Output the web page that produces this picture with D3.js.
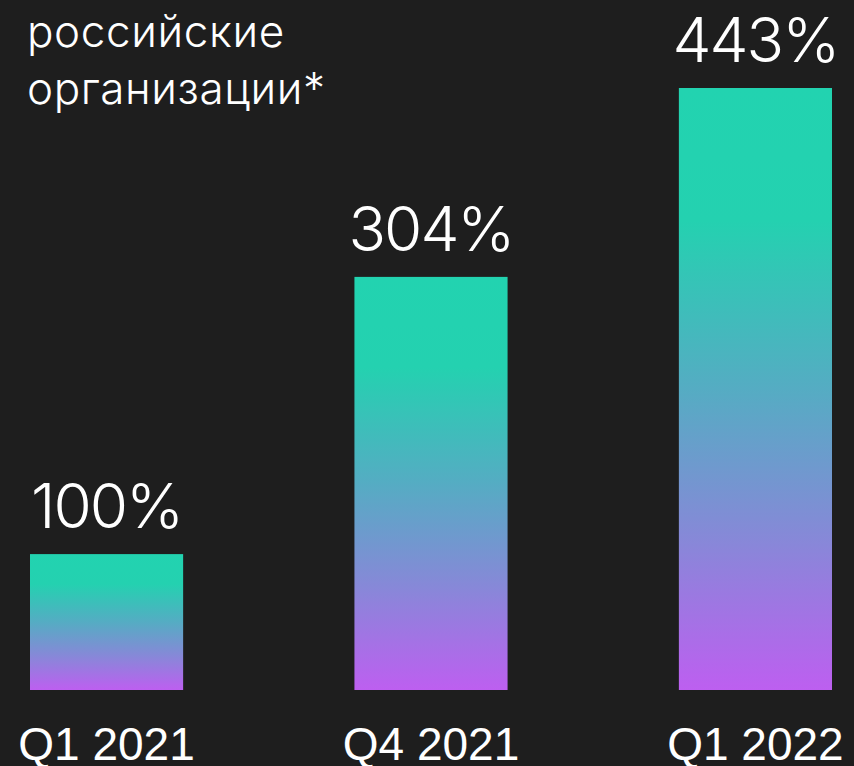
<!DOCTYPE html>
<html>
<head>
<meta charset="utf-8">
<script src="https://cdn.jsdelivr.net/npm/d3@7"></script>
<style>
  html, body { margin: 0; padding: 0; background: #1e1e1e; }
  svg { display: block; }
</style>
</head>
<body>
<div id="chart"></div>
<script>
// data
const quarters = ["Q1 2021", "Q4 2021", "Q1 2022"];
const values = [100, 304, 443];
const valueLabels = ["100%", "304%", "443%"];
const titleLines = ["российские", "организации*"];

const width = 854, height = 766;
const margin = {top: 88, right: 0, bottom: 76, left: 0};

const svg = d3.select("#chart")
  .append("svg")
  .attr("width", width)
  .attr("height", height);

svg.append("rect")
  .attr("width", width)
  .attr("height", height)
  .attr("fill", "#1e1e1e");

// gradient per bar (teal on top, purple at the base)
const defs = svg.append("defs");
const grad = defs.append("linearGradient")
  .attr("id", "barGrad")
  .attr("x1", 0).attr("y1", 0)
  .attr("x2", 0).attr("y2", 1);
grad.append("stop").attr("offset", "0%").attr("stop-color", "#22d3b0");
grad.append("stop").attr("offset", "22%").attr("stop-color", "#24d1b0");
grad.append("stop").attr("offset", "50%").attr("stop-color", "#55acc3");
grad.append("stop").attr("offset", "75%").attr("stop-color", "#8788d8");
grad.append("stop").attr("offset", "100%").attr("stop-color", "#bd5ff0");

const x = d3.scaleBand()
  .domain(quarters)
  .range([30, 832])
  .paddingInner(0.528)
  .paddingOuter(0);

const y = d3.scaleLinear()
  .domain([0, 443])
  .range([height - margin.bottom, margin.top]);

svg.selectAll("rect.bar")
  .data(values)
  .enter()
  .append("rect")
    .attr("class", "bar")
    .attr("x", (d, i) => x(quarters[i]))
    .attr("y", d => y(d))
    .attr("width", x.bandwidth())
    .attr("height", d => y(0) - y(d))
    .attr("fill", "url(#barGrad)");

// value labels above bars
svg.selectAll("text.val")
  .data(values)
  .enter()
  .append("text")
    .attr("class", "val")
    .attr("x", (d, i) => x(quarters[i]) + x.bandwidth() / 2)
    .attr("y", d => y(d) - 26)
    .attr("text-anchor", "middle")
    .attr("fill", "#ffffff")
    .attr("font-family", "Inter, 'Noto Sans', sans-serif")
    .attr("font-weight", 300)
    .attr("font-size", "62px")
    .attr("letter-spacing", "-2px")
    .text((d, i) => valueLabels[i]);

// quarter labels along the bottom (cut by the lower edge, as in the source)
svg.selectAll("text.cat")
  .data(quarters)
  .enter()
  .append("text")
    .attr("class", "cat")
    .attr("x", d => x(d) + x.bandwidth() / 2)
    .attr("y", 760)
    .attr("text-anchor", "middle")
    .attr("fill", "#ffffff")
    .attr("font-family", "'Liberation Sans', Arial, sans-serif")
    .attr("font-size", "46px")
    .text(d => d);

// title in top-left corner
svg.selectAll("text.title")
  .data(titleLines)
  .enter()
  .append("text")
    .attr("class", "title")
    .attr("x", 27)
    .attr("y", (d, i) => 47 + i * 57)
    .attr("fill", "#ffffff")
    .attr("font-family", "Inter, 'Noto Sans', sans-serif")
    .attr("font-weight", 300)
    .attr("font-size", "44px")
    .attr("letter-spacing", "0.6px")
    .text(d => d);
</script>
</body>
</html>
